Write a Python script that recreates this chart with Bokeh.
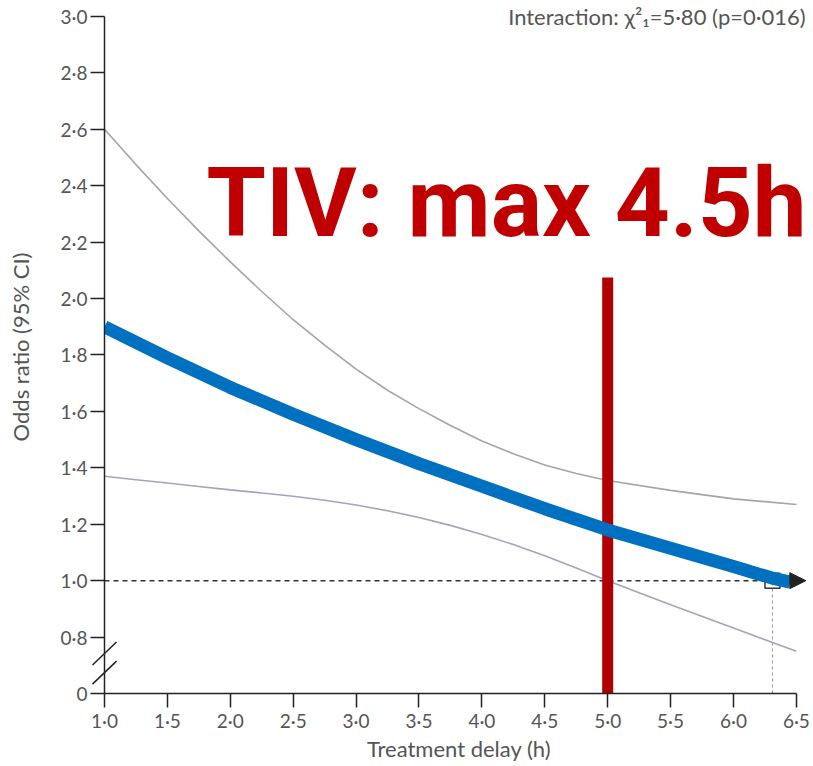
from bokeh.plotting import figure
from bokeh.models import Range1d, FixedTicker, Label, Arrow, NormalHead
from bokeh.embed import file_html
from bokeh.resources import INLINE

# ---------------- data ----------------
band_delay = [1.0, 1.25, 1.5, 1.75, 2.0, 2.25, 2.5, 2.75, 3.0, 3.25, 3.5, 3.75, 4.0, 4.25,
              4.5, 4.75, 5.0, 5.5, 6.0, 6.5]
upper_ci = [2.60, 2.475, 2.355, 2.24, 2.13, 2.025, 1.925, 1.835, 1.75, 1.675, 1.61, 1.55, 1.495,
            1.45, 1.41, 1.38, 1.355, 1.32, 1.29, 1.27]
lower_ci = [1.37, 1.358, 1.346, 1.334, 1.322, 1.311, 1.299, 1.285, 1.268, 1.248, 1.224, 1.196,
            1.164, 1.128, 1.088, 1.045, 1.00, 0.915, 0.832, 0.75]
est_delay = [1.0, 1.5, 2.0, 2.5, 3.0, 3.5, 4.0, 4.5, 5.0, 5.5, 6.0, 6.3, 6.45]
odds_ratio = [1.90, 1.79, 1.685, 1.59, 1.50, 1.415, 1.335, 1.255, 1.18, 1.115, 1.05, 1.01, 0.995]
x_ticks = [1.0, 1.5, 2.0, 2.5, 3.0, 3.5, 4.0, 4.5, 5.0, 5.5, 6.0, 6.5]
x_tick_labels = ["1·0", "1·5", "2·0", "2·5", "3·0", "3·5", "4·0", "4·5", "5·0", "5·5", "6·0", "6·5"]
# 0 is drawn at the 0.6 position (broken axis)
y_ticks = [0.6, 0.8, 1.0, 1.2, 1.4, 1.6, 1.8, 2.0, 2.2, 2.4, 2.6, 2.8, 3.0]
y_tick_labels = ["0", "0·8", "1·0", "1·2", "1·4", "1·6", "1·8", "2·0", "2·2", "2·4", "2·6", "2·8", "3·0"]
reference_or = 1.0
cutoff_delay = 5.0
cutoff_top = 2.075
crossing_delay = 6.31
title_text = "TIV: max 4.5h"
stat_text = "Interaction: χ²₁=5·80 (p=0·016)"

# ---------------- figure ----------------
W, H = 813, 766
LEFT, BOTTOM = 104, 73
x0, x1 = 1.0, 6.636
y0, y1 = 0.6, 3.0567
p = figure(width=W, height=H, x_range=Range1d(x0, x1), y_range=Range1d(y0, y1),
           output_backend="svg", toolbar_location=None,
           min_border_left=LEFT, min_border_right=0, min_border_top=0, min_border_bottom=BOTTOM)
p.outline_line_color = None
p.grid.visible = False
p.background_fill_color = "white"

px_x = (x1 - x0) / (W - LEFT)
px_y = (y1 - y0) / (H - BOTTOM)

font = "Lato"
tick_col = "#555555"

xa = p.xaxis[0]
xa.ticker = FixedTicker(ticks=x_ticks)
xa.major_label_overrides = dict(zip(x_ticks, x_tick_labels))
xa.bounds = (x_ticks[0], x_ticks[-1])
xa.axis_label = "Treatment delay (h)"

ya = p.yaxis[0]
ya.ticker = FixedTicker(ticks=y_ticks)
ya.major_label_overrides = dict(zip(y_ticks, y_tick_labels))
ya.bounds = (y_ticks[0], y_ticks[-1])
ya.axis_label = "Odds ratio (95% CI)"

for ax in (xa, ya):
    ax.axis_line_color = "#222222"
    ax.axis_line_width = 1.5
    ax.major_tick_line_color = "#222222"
    ax.major_tick_line_width = 1.5
    ax.major_tick_out = 14
    ax.major_tick_in = 0
    ax.minor_tick_line_color = None
    ax.major_label_text_font = font
    ax.major_label_text_font_size = "19px"
    ax.major_label_text_color = tick_col
    ax.axis_label_text_font = font
    ax.axis_label_text_font_size = "22px"
    ax.axis_label_text_font_style = "normal"
    ax.axis_label_text_color = tick_col
xa.major_label_standoff = 1
xa.axis_label_standoff = 0
ya.major_label_standoff = 3
ya.axis_label_standoff = 24

# axis break marks on the y axis
for yc in (0.742, 0.674):
    p.segment(x0=x0 - 12 * px_x, y0=yc - 11.5 * px_y, x1=x0 + 12 * px_x, y1=yc + 11.5 * px_y,
              line_color="#222222", line_width=1.5, level="overlay")

# reference line at OR = 1
p.line([x_ticks[0], 6.45], [reference_or, reference_or], line_color="#333333",
       line_width=1.5, line_dash="5 4")
p.line([crossing_delay, crossing_delay], [y_ticks[0], reference_or], line_color="#999999",
       line_width=1, line_dash="3 3")
p.scatter([crossing_delay], [reference_or], marker="square", size=15, fill_color=None,
          line_color="#333333", line_width=1.5)

# confidence bands
p.line(band_delay, upper_ci, line_color="#a5a5a5", line_width=1.6)
p.line(band_delay, lower_ci, line_color="#a3a3c0", line_width=1.6)

# treatment-delay cutoff
p.segment(x0=[cutoff_delay], y0=[y_ticks[0]], x1=[cutoff_delay], y1=[cutoff_top],
          line_color="#B00000", line_width=11)

# estimate
p.line(est_delay, odds_ratio, line_color="#0070C0", line_width=13)

p.add_layout(Arrow(end=NormalHead(size=16, fill_color="#222222", line_color="#222222"),
                   x_start=6.4, y_start=reference_or, x_end=6.575, y_end=reference_or,
                   line_alpha=0))

p.add_layout(Label(x=6.572, y=3.0, text=stat_text, text_align="right",
                   text_baseline="alphabetic", text_font=font, text_font_size="22px",
                   text_color=tick_col))
p.add_layout(Label(x=1.81, y=2.338, text=title_text, text_align="left",
                   text_baseline="alphabetic", text_font="Roboto",
                   text_font_style="bold", text_font_size="96px", text_color="#C00000"))

open("out.html", "w").write(file_html(p, INLINE))
